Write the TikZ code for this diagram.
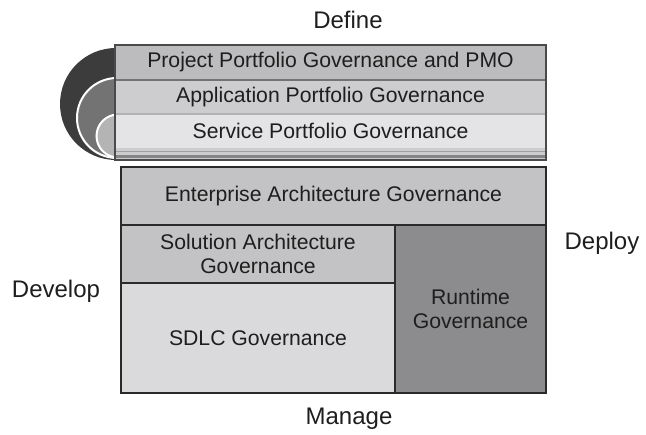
\documentclass[tikz,border=0pt]{standalone}
\usepackage{fontspec}
\setmainfont{Liberation Sans}
\definecolor{txt}{HTML}{1E1E1E}
\definecolor{bord}{HTML}{2A2A2A}
\definecolor{topbord}{HTML}{4A4A4A}
\definecolor{cdark}{HTML}{3C3C3C}
\definecolor{cmid}{HTML}{737373}
\definecolor{clight}{HTML}{B4B4B4}
\definecolor{fppg}{HTML}{BCBCBE}
\definecolor{fapg}{HTML}{CDCDCF}
\definecolor{fspg}{HTML}{E4E4E6}
\definecolor{fea}{HTML}{C3C3C5}
\definecolor{fsdlc}{HTML}{DADADC}
\definecolor{frt}{HTML}{8C8C8E}
\begin{document}
\begin{tikzpicture}[x=1pt,y=-1pt,
  cell/.style={rectangle, inner sep=0pt, align=center, text=txt,
    font=\fontsize{21.2}{23.5}\selectfont},
  boxcell/.style={cell, draw=bord, line width=2pt},
  lbl/.style={inner sep=0pt, text=txt, font=\fontsize{24}{27}\selectfont}]
\useasboundingbox (0,0) rectangle (646,435);
% circles
\fill[cdark] (116,104) circle (56);
\filldraw[fill=cmid, draw=white, line width=2pt] (117,118) circle (40);
\filldraw[fill=clight, draw=white, line width=2pt] (118,136) circle (21.5);
% top stack
\node[cell, fill=fppg, minimum width=431, minimum height=35] (ppg) at (330.5,62.5) {Project Portfolio Governance and PMO};
\node[cell, fill=fapg, minimum width=431, minimum height=34] (apg) at (330.5,97) {Application Portfolio Governance};
\node[cell, fill=fspg, minimum width=431, minimum height=34] (spg) at (330.5,131) {Service Portfolio Governance};
\fill[fapg] (115,148) rectangle (546,160);
\fill[gray!75] (115,151) rectangle (546,152.5);
\fill[gray!95] (115,155) rectangle (546,158);
\draw[color=gray!110, line width=2pt] (ppg.south west) -- (ppg.south east);
\draw[color=gray!60, line width=2pt] (apg.south west) -- (apg.south east);
\draw[topbord, line width=2pt] (115,45) rectangle (546,160);
% lower stack
\node[boxcell, fill=fea, minimum width=425, minimum height=58] (ea) at (333.5,196) {Enterprise Architecture Governance};
\node[boxcell, fill=fea, minimum width=274, minimum height=58] (sa) at (258,254) {Solution Architecture\\Governance};
\node[boxcell, fill=fsdlc, minimum width=274, minimum height=110] (sdlc) at (258,338) {SDLC Governance};
\node[boxcell, fill=frt, minimum width=151, minimum height=168] (rt) at (470.5,309) {Runtime\\Governance};
% labels
\node[lbl] (define) at (348,20) {Define};
\node[lbl] (deploy) at (602,243) {Deploy};
\node[lbl] (develop) at (56,291) {Develop};
\node[lbl] (manage) at (349,419) {Manage};
\end{tikzpicture}
\end{document}
